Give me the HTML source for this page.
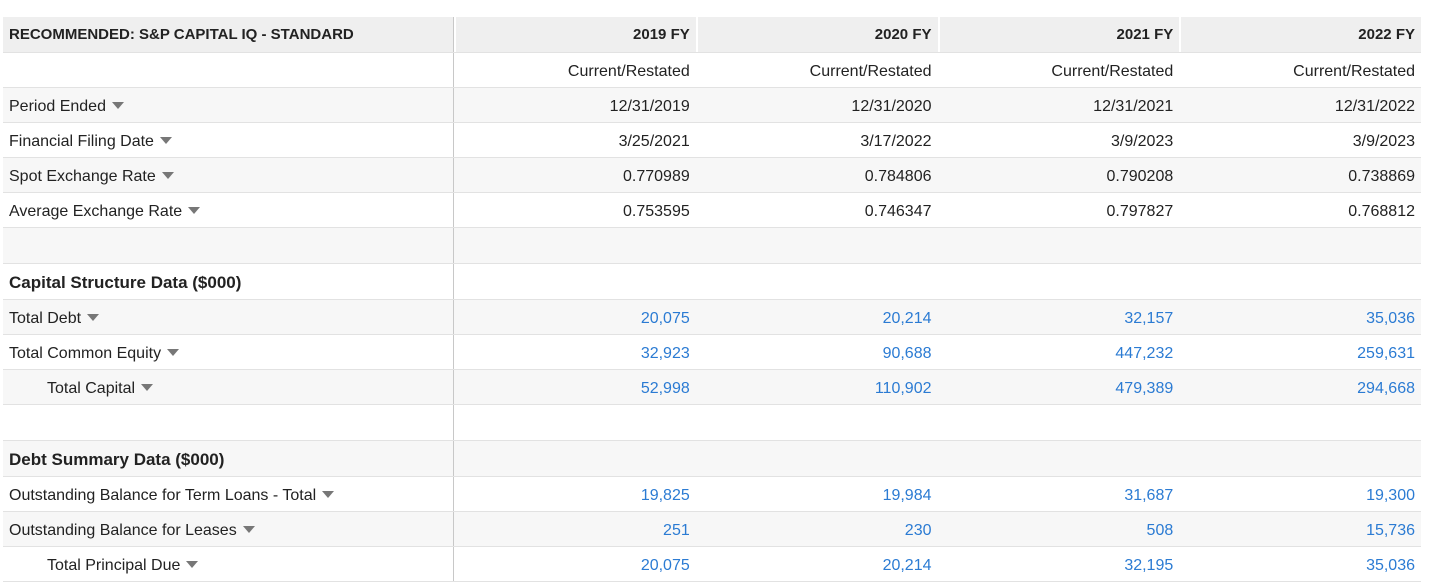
<!DOCTYPE html>
<html><head><style>
body{margin:0;background:#fff;font-family:"Liberation Sans",sans-serif;}
.t{position:absolute;left:3px;top:17px;width:1418px;}
.r{position:relative;height:35px;border-bottom:1.5px solid #e2e2e2;display:flex;font-size:16px;color:#222;box-sizing:border-box;}
.r.g{background:#f7f7f7}
.r.sp{height:36px}
.l{width:451px;border-right:1.5px solid #c8c8c8;padding-left:6px;padding-top:3px;box-sizing:border-box;display:flex;align-items:center;white-space:nowrap}
.c{width:241.75px;text-align:right;padding-right:6px;padding-top:3px;box-sizing:border-box;display:flex;align-items:center;justify-content:flex-end}
.b{color:#2b7bd3}
.h{height:36px;font-weight:bold;font-size:15px;}
.h .l,.h .c{background:#efefef;padding-top:0}
.h .c{border-left:2px solid #fff}
.h .c:first-of-type{border-left:none}
.sec{height:36px;font-weight:bold;font-size:17px}
.ar{display:inline-block;width:0;height:0;border-left:6px solid transparent;border-right:6px solid transparent;border-top:7px solid #777;margin-left:6px;margin-top:-2px}
.in{padding-left:44px}
</style></head><body>
<div class="t">
<div class="r h"><div class="l">RECOMMENDED: S&amp;P CAPITAL IQ - STANDARD</div><div class="c">2019 FY</div><div class="c">2020 FY</div><div class="c">2021 FY</div><div class="c">2022 FY</div></div>
<div class="r"><div class="l"></div><div class="c">Current/Restated</div><div class="c">Current/Restated</div><div class="c">Current/Restated</div><div class="c">Current/Restated</div></div>
<div class="r g"><div class="l">Period Ended<span class="ar"></span></div><div class="c">12/31/2019</div><div class="c">12/31/2020</div><div class="c">12/31/2021</div><div class="c">12/31/2022</div></div>
<div class="r"><div class="l">Financial Filing Date<span class="ar"></span></div><div class="c">3/25/2021</div><div class="c">3/17/2022</div><div class="c">3/9/2023</div><div class="c">3/9/2023</div></div>
<div class="r g"><div class="l">Spot Exchange Rate<span class="ar"></span></div><div class="c">0.770989</div><div class="c">0.784806</div><div class="c">0.790208</div><div class="c">0.738869</div></div>
<div class="r"><div class="l">Average Exchange Rate<span class="ar"></span></div><div class="c">0.753595</div><div class="c">0.746347</div><div class="c">0.797827</div><div class="c">0.768812</div></div>
<div class="r g sp"><div class="l"></div></div>
<div class="r sec"><div class="l">Capital Structure Data ($000)</div></div>
<div class="r g"><div class="l">Total Debt<span class="ar"></span></div><div class="c b">20,075</div><div class="c b">20,214</div><div class="c b">32,157</div><div class="c b">35,036</div></div>
<div class="r"><div class="l">Total Common Equity<span class="ar"></span></div><div class="c b">32,923</div><div class="c b">90,688</div><div class="c b">447,232</div><div class="c b">259,631</div></div>
<div class="r g"><div class="l in">Total Capital<span class="ar"></span></div><div class="c b">52,998</div><div class="c b">110,902</div><div class="c b">479,389</div><div class="c b">294,668</div></div>
<div class="r sp"><div class="l"></div></div>
<div class="r g sec"><div class="l">Debt Summary Data ($000)</div></div>
<div class="r"><div class="l">Outstanding Balance for Term Loans - Total<span class="ar"></span></div><div class="c b">19,825</div><div class="c b">19,984</div><div class="c b">31,687</div><div class="c b">19,300</div></div>
<div class="r g"><div class="l">Outstanding Balance for Leases<span class="ar"></span></div><div class="c b">251</div><div class="c b">230</div><div class="c b">508</div><div class="c b">15,736</div></div>
<div class="r"><div class="l in">Total Principal Due<span class="ar"></span></div><div class="c b">20,075</div><div class="c b">20,214</div><div class="c b">32,195</div><div class="c b">35,036</div></div>
</div>
</body></html>
